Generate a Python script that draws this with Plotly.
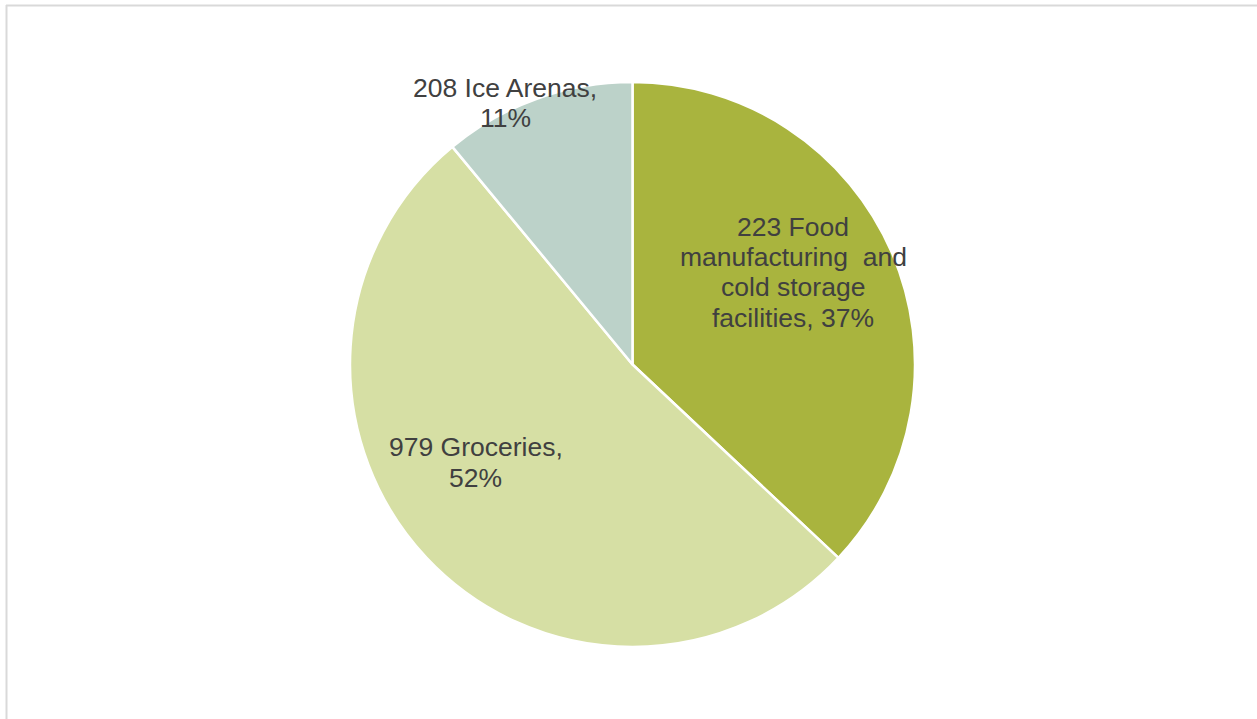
import plotly.graph_objects as go

# Slice data
categories = ["Food manufacturing and cold storage facilities", "Groceries", "Ice Arenas"]
counts = [223, 979, 208]
shares = [37, 52, 11]  # percent of total
colors = ["#a9b43e", "#d6dfa4", "#bcd2c9"]

# Label text, broken into lines as displayed
label_lines = [
    ["{n} Food", "manufacturing  and", "cold storage", "facilities, {p}%"],
    ["{n} Groceries,", "{p}%"],
    ["{n} Ice Arenas,", "{p}%"],
]
# Label placement in pixels: centre x, first-line y, line step
label_pos = [(793, 226.5, 30.4), (475.5, 447, 31.3), (505, 87.5, 30.6)]

W, H = 1257, 719
cx, cy, r = 632.5, 364.5, 282.5

fig = go.Figure(
    go.Pie(
        labels=categories,
        values=shares,
        sort=False,
        direction="clockwise",
        rotation=0,
        marker=dict(colors=colors, line=dict(color="white", width=2.5)),
        textinfo="none",
        hoverinfo="label+value",
        showlegend=False,
        domain=dict(x=[(cx - r) / W, (cx + r) / W], y=[1 - (cy + r) / H, 1 - (cy - r) / H]),
    )
)

for lines, n, p, (px, py0, step) in zip(label_lines, counts, shares, label_pos):
    for i, line in enumerate(lines):
        fig.add_annotation(
            x=px / W, y=1 - (py0 + i * step) / H, xref="paper", yref="paper",
            xanchor="center", yanchor="middle", showarrow=False,
            text=line.format(n=n, p=p),
            font=dict(family="Liberation Sans, Arial, sans-serif", size=26.5, color="#404040"),
        )

# Chart frame
fig.add_shape(type="line", xref="paper", yref="paper", x0=6 / W, x1=1, y0=1 - 5.5 / H, y1=1 - 5.5 / H,
              line=dict(color="#d9d9d9", width=2))
fig.add_shape(type="line", xref="paper", yref="paper", x0=6.5 / W, x1=6.5 / W, y0=0, y1=1 - 5 / H,
              line=dict(color="#d9d9d9", width=2))

fig.update_layout(
    width=W, height=H,
    margin=dict(l=0, r=0, t=0, b=0),
    paper_bgcolor="white",
    plot_bgcolor="white",
)

fig.write_html("out.html")
